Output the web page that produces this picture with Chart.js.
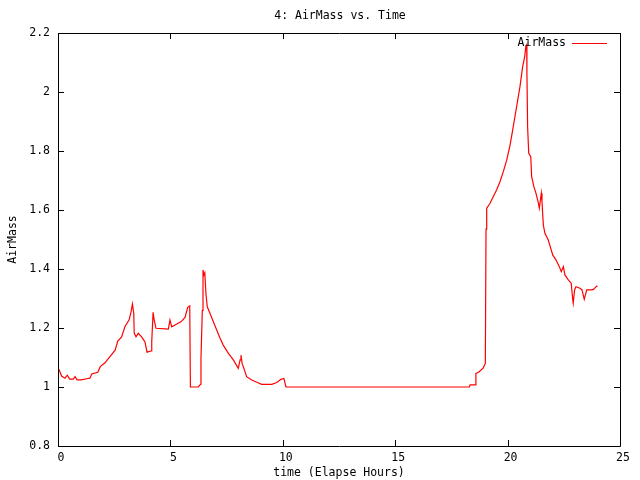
<!DOCTYPE html>
<html>
<head>
<meta charset="utf-8">
<script src="https://cdn.jsdelivr.net/npm/chart.js@4.4.1/dist/chart.umd.min.js"></script>
<style>
  html, body { margin: 0; padding: 0; background: #fff; }
  #wrap { width: 640px; height: 480px; }
</style>
</head>
<body>
<div id="wrap"><canvas id="airChart" width="640" height="480"></canvas></div>
<script>
// elapsed hours and air mass
const timeHours = [
  0.04, 0.16, 0.31, 0.41, 0.52, 0.68, 0.76, 0.85, 1.02, 1.28, 1.42, 1.50, 1.77, 1.88,
  2.09, 2.31, 2.54, 2.66, 2.83, 2.98, 3.16, 3.25, 3.31, 3.37, 3.39, 3.47, 3.57, 3.72,
  3.87, 3.96, 4.14, 4.17, 4.23, 4.28, 4.36, 4.91, 4.98, 5.06, 5.24, 5.47, 5.65, 5.77,
  5.86, 5.89, 6.24, 6.35, 6.36, 6.42, 6.45, 6.49, 6.53, 6.58, 6.64, 6.76, 6.91, 7.06,
  7.21, 7.35, 7.58, 7.80, 8.02, 8.10, 8.14, 8.19, 8.27, 8.39, 8.62, 8.87, 9.06, 9.51,
  9.73, 9.92, 10.05, 10.14, 18.30, 18.33, 18.55, 18.59, 18.71, 18.91, 19.01, 19.04,
  19.07, 19.22, 19.36, 19.51, 19.66, 19.81, 19.96, 20.11, 20.25, 20.40, 20.55, 20.67,
  20.76, 20.81, 20.85, 20.86, 20.89, 20.94, 21.03, 21.07, 21.17, 21.26, 21.37, 21.41,
  21.47, 21.50, 21.53, 21.59, 21.66, 21.81, 21.92, 22.01, 22.15, 22.30, 22.39, 22.48,
  22.55, 22.70, 22.83, 22.90, 22.92, 22.98, 23.04, 23.22, 23.31, 23.41, 23.52, 23.74,
  23.82, 23.96, 24.00
];
const airMass = [
  1.060, 1.037, 1.030, 1.040, 1.027, 1.027, 1.035, 1.024, 1.024, 1.028, 1.030, 1.044, 1.050, 1.069,
  1.082, 1.103, 1.125, 1.156, 1.170, 1.205, 1.227, 1.255, 1.281, 1.250, 1.183, 1.170, 1.182, 1.170,
  1.153, 1.118, 1.122, 1.153, 1.253, 1.227, 1.199, 1.196, 1.227, 1.204, 1.212, 1.221, 1.236, 1.270,
  1.275, 1.000, 1.000, 1.010, 1.097, 1.260, 1.397, 1.380, 1.387, 1.318, 1.272, 1.250, 1.221, 1.193,
  1.165, 1.142, 1.114, 1.092, 1.063, 1.092, 1.108, 1.080, 1.063, 1.035, 1.024, 1.015, 1.009, 1.009,
  1.015, 1.026, 1.029, 1.000, 1.000, 1.007, 1.007, 1.046, 1.050, 1.064, 1.080, 1.535,
  1.606, 1.623, 1.645, 1.668, 1.696, 1.730, 1.769, 1.820, 1.882, 1.950, 2.018, 2.086,
  2.120, 2.154, 2.160, 2.063, 1.882, 1.792, 1.781, 1.713, 1.679, 1.657, 1.623, 1.606,
  1.640, 1.657, 1.628, 1.549, 1.521, 1.498, 1.470, 1.447, 1.431, 1.408, 1.391, 1.408,
  1.380, 1.363, 1.352, 1.295, 1.284, 1.329, 1.340, 1.335, 1.329, 1.297, 1.329, 1.329,
  1.331, 1.342, 1.341
];
const xTicks = [0, 5, 10, 15, 20, 25];
const yTicks = [0.8, 1, 1.2, 1.4, 1.6, 1.8, 2, 2.2];

const FONT = "DejaVu Sans Mono";
const FONT_SIZE = 11.5;

// gnuplot-like frame: border, inward ticks on all four sides, title and legend
const framePlugin = {
  id: "frame",
  afterDatasetsDraw(chart) {
    const { ctx, chartArea: a, scales } = chart;
    const tick = 6;
    ctx.save();
    ctx.strokeStyle = "#000";
    ctx.lineWidth = 1;
    ctx.beginPath();
    ctx.rect(Math.round(a.left) + 0.5, Math.round(a.top) + 0.5,
      Math.round(a.right - a.left), Math.round(a.bottom - a.top));
    xTicks.forEach(v => {
      const px = Math.round(scales.x.getPixelForValue(v)) + 0.5;
      ctx.moveTo(px, a.bottom); ctx.lineTo(px, a.bottom - tick);
      ctx.moveTo(px, a.top); ctx.lineTo(px, a.top + tick);
    });
    yTicks.forEach(v => {
      const py = Math.round(scales.y.getPixelForValue(v)) + 0.5;
      ctx.moveTo(a.left, py); ctx.lineTo(a.left + tick, py);
      ctx.moveTo(a.right, py); ctx.lineTo(a.right - tick, py);
    });
    ctx.stroke();

    ctx.fillStyle = "#000";
    ctx.font = FONT_SIZE + "px '" + FONT + "'";
    ctx.textBaseline = "middle";
    ctx.textAlign = "center";
    ctx.fillText("4: AirMass vs. Time", (a.left + a.right) / 2 + 1, 16);

    // legend
    const ds = chart.data.datasets[0];
    ctx.textAlign = "right";
    ctx.fillText(ds.label, 566, 43);
    ctx.strokeStyle = ds.borderColor;
    ctx.beginPath();
    ctx.moveTo(572, 43.5); ctx.lineTo(607, 43.5);
    ctx.stroke();
    ctx.restore();
  }
};

const points = timeHours.map((t, i) => ({ x: t, y: airMass[i] }));

new Chart(document.getElementById("airChart").getContext("2d"), {
  type: "line",
  data: {
    datasets: [{
      label: "AirMass",
      data: points,
      borderColor: "#ff0000",
      borderWidth: 1.2,
      pointRadius: 0,
      tension: 0,
      fill: false,
    }],
  },
  options: {
    responsive: false,
    animation: false,
    devicePixelRatio: 1,
    layout: { padding: { top: 33, right: 20, left: 0, bottom: 0 } },
    plugins: {
      legend: { display: false },
      title: { display: false },
      tooltip: { enabled: false },
    },
    scales: {
      x: {
        type: "linear",
        min: 0,
        max: 25,
        afterBuildTicks: s => { s.ticks = xTicks.map(v => ({ value: v })); },
        afterFit: s => { s.height = 34; },
        grid: { display: false, drawTicks: false },
        border: { display: false },
        ticks: { color: "#000", padding: 5, labelOffset: 3, maxRotation: 0,
                 font: { family: FONT, size: FONT_SIZE } },
        title: { display: true, text: "time (Elapse Hours)", color: "#000", padding: 0,
                 font: { family: FONT, size: FONT_SIZE } },
      },
      y: {
        min: 0.8,
        max: 2.2,
        afterBuildTicks: s => { s.ticks = yTicks.map(v => ({ value: v })); },
        afterFit: s => { s.width = 58; },
        grid: { display: false, drawTicks: false },
        border: { display: false },
        ticks: { color: "#000", padding: 8, callback: v => String(Math.round(v * 10) / 10),
                 font: { family: FONT, size: FONT_SIZE } },
        title: { display: true, text: "AirMass", color: "#000", padding: { top: 6, bottom: 0 },
                 font: { family: FONT, size: FONT_SIZE } },
      },
    },
  },
  plugins: [framePlugin],
});
</script>
</body>
</html>
